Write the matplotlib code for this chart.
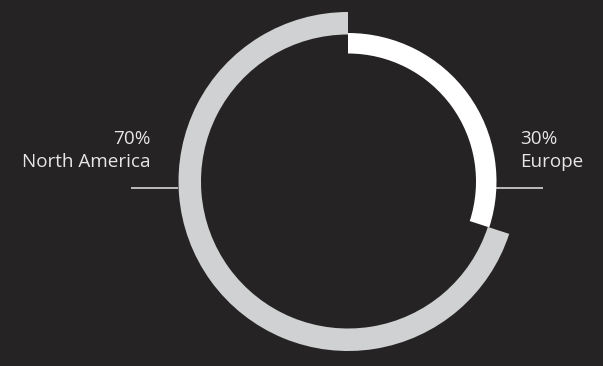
import matplotlib
matplotlib.use('Agg')
import matplotlib.pyplot as plt
from matplotlib.patches import Wedge

# share of sales by region
regions = ['Europe', 'North America']
shares = [30, 70]
colors = ['#ffffff', '#d0d1d2']
# ring geometry per region (outer radius, width) in pixels
rings = [(148.5, 20.5), (169.5, 22.5)]

bg = '#252324'
cx, cy = 348, 366 - 181.5

fig = plt.figure(figsize=(6.03, 3.66), dpi=100, facecolor=bg)
ax = fig.add_axes([0, 0, 1, 1])
ax.set_facecolor(bg)
ax.set_xlim(0, 603)
ax.set_ylim(0, 366)
ax.set_aspect('equal')
ax.axis('off')

# segments run clockwise from 12 o'clock
start = 90.0
for name, val, col, (r, w) in zip(regions, shares, colors, rings):
    sweep = val / sum(shares) * 360.0
    ax.add_patch(Wedge((cx, cy), r, start - sweep, start, width=w,
                       facecolor=col, edgecolor='none'))
    start -= sweep

# leader lines
ly = 366 - 188
ax.plot([496, 543], [ly, ly], color='#e6e6e6', lw=1.1, solid_capstyle='butt')
ax.plot([131, 178], [ly, ly], color='#e6e6e6', lw=1.1, solid_capstyle='butt')

font = dict(family=['Open Sans', 'DejaVu Sans'], fontsize=13.6, color='#e6e6e6')
ax.text(520, 366 - 139, '%d%%' % shares[0], ha='left', va='center', **font)
ax.text(520, 366 - 162, regions[0], ha='left', va='center', **font)
ax.text(151, 366 - 139, '%d%%' % shares[1], ha='right', va='center', **font)
ax.text(151, 366 - 162, regions[1], ha='right', va='center', **font)

fig.savefig('out.png', dpi=100, facecolor=bg)
